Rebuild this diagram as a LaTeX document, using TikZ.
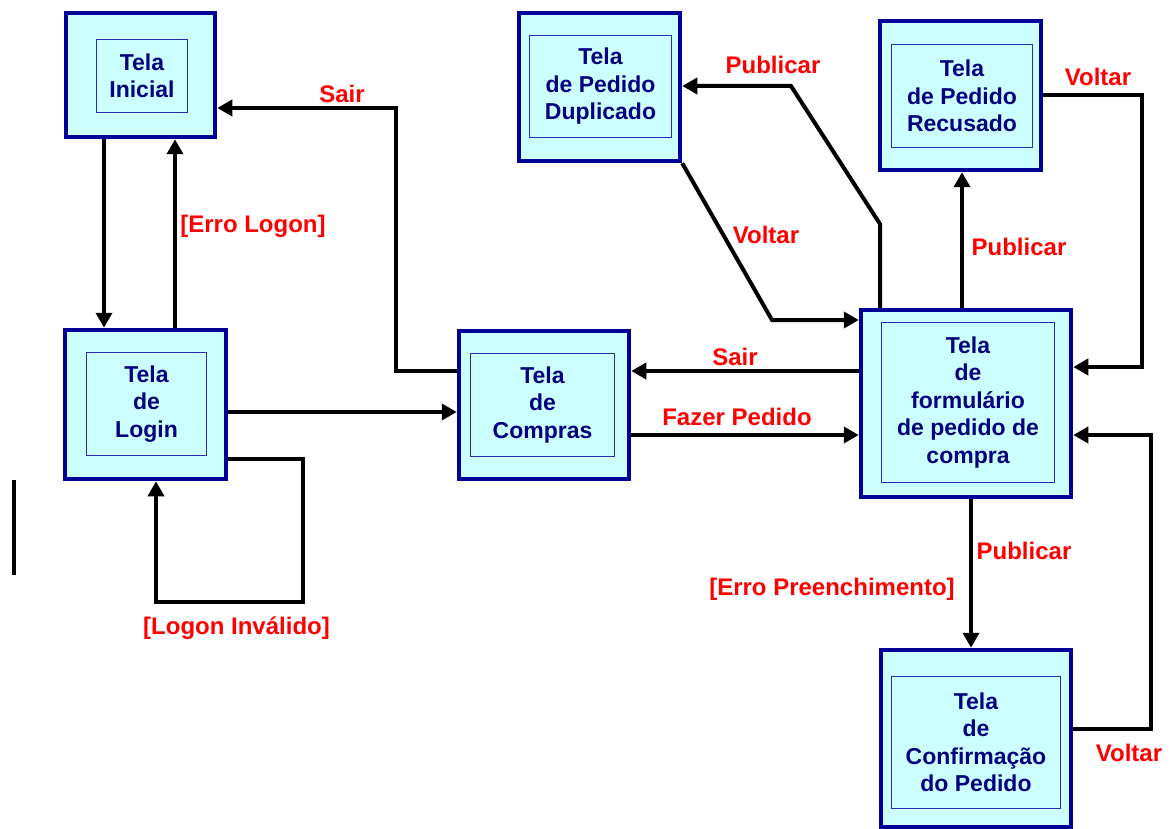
\documentclass[tikz,border=0pt]{standalone}
\usepackage{fontspec}
\setmainfont{Liberation Sans}
\usetikzlibrary{arrows.meta}

\definecolor{azulclaro}{HTML}{CCFFFF}
\definecolor{azulborda}{HTML}{000099}
\definecolor{azulfino}{HTML}{2B2BB0}
\definecolor{azultexto}{HTML}{000080}
\definecolor{vermelho}{HTML}{FF0000}

\begin{document}
\begin{tikzpicture}[x=1pt, y=-1pt, align=center,
  font=\bfseries\fontsize{23}{27.5}\selectfont,
  tela/.style={draw=azulborda, line width=4.5pt, fill=azulclaro},
  miolo/.style={draw=azulfino, line width=1.5pt, text=azultexto, inner sep=0pt},
  rotulo/.style={text=vermelho, inner sep=0pt, font=\bfseries\fontsize{24}{28}\selectfont},
  seta/.style={line width=4pt, -{Triangle[length=15pt,width=16pt]}}]

\useasboundingbox (0,0) rectangle (1175,829);

\node (inicial) [tela, minimum width=149pt, minimum height=124pt] at (140.5,75) {};
\node (inicialT) [miolo, minimum width=91pt, minimum height=73pt] at (142,76) {Tela\\Inicial};

\node (login) [tela, minimum width=161pt, minimum height=149pt] at (145.5,404.5) {};
\node (loginT) [miolo, minimum width=120pt, minimum height=103pt] at (146.5,404) {Tela\\de\\Login};

\node (compras) [tela, minimum width=170pt, minimum height=148pt] at (544,405) {};
\node (comprasT) [miolo, minimum width=144pt, minimum height=103pt] at (542.5,405) {Tela\\de\\Compras};

\node (dup) [tela, minimum width=161pt, minimum height=148pt] at (599.5,87) {};
\node (dupT) [miolo, minimum width=142pt, minimum height=102pt] at (600.5,86.5) {Tela\\de Pedido\\Duplicado};

\node (rec) [tela, minimum width=161pt, minimum height=149pt] at (960.5,95.5) {};
\node (recT) [miolo, minimum width=141pt, minimum height=103pt] at (962,96) {Tela\\de Pedido\\Recusado};

\node (form) [tela, minimum width=210pt, minimum height=187pt] at (966,403.5) {};
\node (formT) [miolo, minimum width=173pt, minimum height=160pt] at (968,402.5) {Tela\\de\\formulário\\de pedido de\\compra};

\node (conf) [tela, minimum width=190pt, minimum height=177pt] at (976,738.5) {};
\node (confT) [miolo, minimum width=169pt, minimum height=132pt] at (976,742.5) {Tela\\de\\Confirmação\\do Pedido};

\coordinate (sairA) at (396,108);
\coordinate (loopA) at (303,602);
\coordinate (pubA) at (880,224);
\coordinate (pubB) at (791,86);
\coordinate (volA) at (772,320);
\coordinate (volB) at (1142,367);
\coordinate (volC) at (1151,435);
\coordinate (riscoA) at (14,480);
\coordinate (riscoB) at (14,575);

\draw[seta] ([xshift=-36.5pt]inicial.south) -- ([xshift=-36.5pt]inicial.south |- login.north);
\draw[seta] ([xshift=29.5pt]login.north) -- ([xshift=29.5pt]login.north |- inicial.south);
\draw[seta] ([yshift=34pt]compras.west) -| (sairA) -- (sairA -| inicial.east);
\draw[seta] ([yshift=-7.5pt]login.east) -- ([yshift=-7.5pt]login.east -| compras.west);
\draw[seta] ([yshift=-54.5pt]login.east) -| (loopA) -| ([xshift=10.5pt]login.south);
\draw[seta] ([yshift=-30pt]compras.east) -- ([yshift=-30pt]compras.east -| form.west);
\draw[seta] ([yshift=32.5pt]form.west) -- ([yshift=32.5pt]form.west -| compras.east);
\draw[seta] ([xshift=-86pt]form.north) -- (pubA) -- (pubB) -- (pubB -| dup.east);
\draw[seta] (dup.south east) -- (volA) -- (volA -| form.west);
\draw[seta] ([xshift=-4pt]form.north) -- ([xshift=-4pt]form.north |- rec.south);
\draw[seta] (rec.east) -| (volB) -- (volB -| form.east);
\draw[seta] ([xshift=5pt]form.south) -- ([xshift=5pt]form.south |- conf.north);
\draw[seta] ([yshift=9.5pt]conf.east) -| (volC) -- (volC -| form.east);
\draw[line width=3.5pt] (riscoA) -- (riscoB);

\node (lSairIni) [rotulo] at (342,94) {Sair};
\node (lErroLogon) [rotulo] at (253,226) {[Erro Logon]};
\node (lLogonInv) [rotulo] at (236.5,628) {[Logon Inválido]};
\node (lPubDup) [rotulo] at (773,65) {Publicar};
\node (lVoltarDup) [rotulo] at (766,235) {Voltar};
\node (lVoltarRec) [rotulo] at (1098,77) {Voltar};
\node (lPubRec) [rotulo] at (1019,247) {Publicar};
\node (lSairCompras) [rotulo] at (735,357) {Sair};
\node (lFazer) [rotulo] at (737,417) {Fazer Pedido};
\node (lPubConf) [rotulo] at (1024,551) {Publicar};
\node (lErroPreench) [rotulo] at (832,589) {[Erro Preenchimento]};
\node (lVoltarConf) [rotulo] at (1129,753) {Voltar};

\end{tikzpicture}
\end{document}
